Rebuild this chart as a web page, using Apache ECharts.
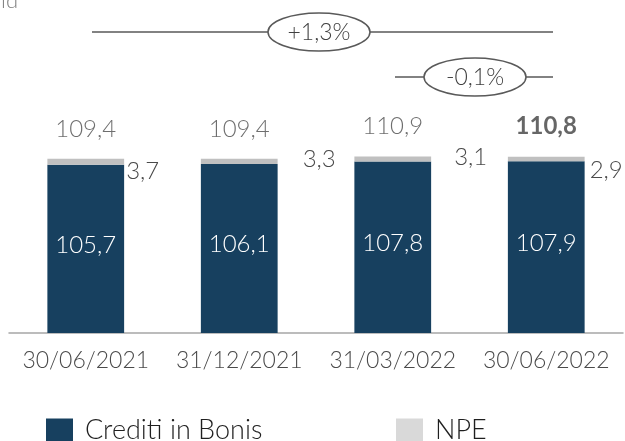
<!DOCTYPE html>
<html>
<head>
<meta charset="utf-8">
<script src="https://cdn.jsdelivr.net/npm/echarts@6/dist/echarts.min.js"></script>
<style>
  html, body { margin: 0; padding: 0; background: #fff; }
  #chart { width: 625px; height: 441px; }
</style>
</head>
<body>
<div id="chart"></div>
<script>
// Loan book by reporting date (€ bn)
const categories = ['30/06/2021', '31/12/2021', '31/03/2022', '30/06/2022'];
const bonisValues = [105.7, 106.1, 107.8, 107.9];
const npeValues = [3.7, 3.3, 3.1, 2.9];
const totalValues = [109.4, 109.4, 110.9, 110.8];
const seriesNames = ['Crediti in Bonis', 'NPE'];
const growthLabels = ['+1,3%', '-0,1%'];

const FONT = 'Lato, "Noto Sans", sans-serif';
const DARK = '#17405f';
const GREY_BAR = '#c0c0c0';
const GREY_KEY = '#d9d9d9';
const TEXT = '#4a4a4a';

const fmt = v => v.toFixed(1).replace('.', ',');

// per-bar placement of the NPE value labels
const npeLabelPlace = [
  { distance: 2, offset: [0, 9] },
  { distance: 25, offset: [0, -2] },
  { distance: 23, offset: [0, -2] },
  { distance: 5, offset: [0, 11] }
];

const chart = echarts.init(document.getElementById('chart'), null, { renderer: 'canvas' });

function growthBubble(cx, cy, x1, x2, text) {
  return [
    { type: 'line', shape: { x1: x1, y1: cy, x2: x2, y2: cy }, style: { stroke: '#595959', lineWidth: 1.5 }, z: 10 },
    { type: 'ellipse', shape: { cx: cx, cy: cy, rx: 51, ry: 19 }, style: { fill: '#fff', stroke: '#595959', lineWidth: 1.5 }, z: 11 },
    { type: 'text', x: cx, y: cy + 1, style: { text: text, fill: '#404040', font: '300 23px ' + FONT, align: 'center', verticalAlign: 'middle' }, z: 12 }
  ];
}

const legendText = {
  color: '#1f1f1f', fontFamily: FONT, fontSize: 27, fontWeight: 300,
  lineHeight: 24, padding: [0, 0, 0, 7]
};

const option = {
  animation: false,
  grid: { left: 9, right: 2, top: 142, bottom: 108, containLabel: false },
  xAxis: {
    type: 'category',
    data: categories,
    axisLine: { show: true, lineStyle: { color: '#a6a6a6', width: 1.5 } },
    axisTick: { show: false },
    axisLabel: { interval: 0, color: TEXT, fontFamily: FONT, fontSize: 23, fontWeight: 300, margin: 16 }
  },
  yAxis: { type: 'value', min: 0, max: 120, show: false, splitLine: { show: false } },
  legend: [
    {
      data: [{ name: seriesNames[0], itemStyle: { color: DARK } }],
      left: 46, top: 417, padding: 0, icon: 'rect', itemWidth: 27, itemHeight: 24, itemGap: 10,
      textStyle: legendText, selectedMode: false
    },
    {
      data: [{ name: seriesNames[1], itemStyle: { color: GREY_KEY } }],
      left: 396, top: 417, padding: 0, icon: 'rect', itemWidth: 27, itemHeight: 24, itemGap: 10,
      textStyle: legendText, selectedMode: false
    }
  ],
  series: [
    {
      name: seriesNames[0],
      type: 'bar',
      stack: 'loans',
      barWidth: '50%',
      data: bonisValues,
      itemStyle: { color: DARK },
      label: {
        show: true, position: 'inside', color: '#fff', offset: [0, -4],
        fontFamily: FONT, fontSize: 24, fontWeight: 300,
        formatter: p => fmt(p.value)
      }
    },
    {
      name: seriesNames[1],
      type: 'bar',
      stack: 'loans',
      barWidth: '50%',
      data: npeValues.map((v, i) => ({
        value: v,
        label: { distance: npeLabelPlace[i].distance, offset: npeLabelPlace[i].offset }
      })),
      itemStyle: { color: GREY_BAR },
      label: {
        show: true, position: 'right', color: TEXT,
        fontFamily: FONT, fontSize: 24, fontWeight: 300,
        formatter: p => fmt(p.value)
      }
    },
    {
      name: 'Totale',
      type: 'scatter',
      symbolSize: 0,
      data: totalValues.map((v, i) => ({
        value: v,
        label: i === totalValues.length - 1
          ? { fontWeight: 'bold', color: '#404040' }
          : {}
      })),
      label: {
        show: true, position: 'top', distance: 18, color: TEXT,
        fontFamily: FONT, fontSize: 24, fontWeight: 300,
        formatter: p => fmt(p.value)
      },
      silent: true
    }
  ],
  graphic: [
    { type: 'text', x: 18, y: -10, style: { text: 'Mld', fill: '#7f7f7f', font: '300 22px ' + FONT, align: 'right', verticalAlign: 'top' } },
    ...growthBubble(319, 32, 92, 553, growthLabels[0]),
    ...growthBubble(475, 77, 395, 553, growthLabels[1])
  ]
};

chart.setOption(option);
</script>
</body>
</html>
